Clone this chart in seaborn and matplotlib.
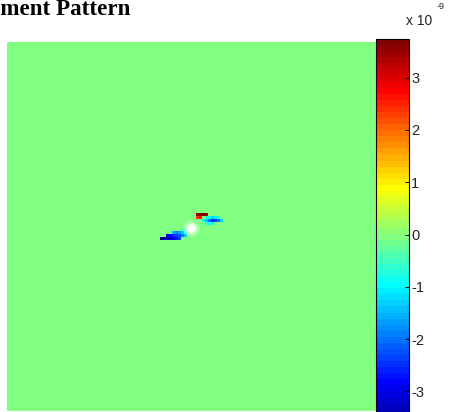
import numpy as np
import matplotlib
matplotlib.use("Agg")
import matplotlib.pyplot as plt
import seaborn as sns
from matplotlib.colors import ListedColormap

# ---------------- data (values in units of 1e-9) ----------------
grid_size = 123
cell_rows = [65, 65, 65, 65, 65, 65, 65,
             64, 64, 64, 64, 64, 64, 64,
             63, 63, 63, 63, 63,
             62, 62,
             57, 57, 57, 57, 58, 58,
             59, 59, 59, 59, 59, 59, 59,
             58, 58, 58, 58, 58,
             60, 60, 60]
cell_cols = [51, 52, 53, 54, 55, 56, 57,
             53, 54, 55, 56, 57, 58, 59,
             55, 56, 57, 58, 59,
             58, 59,
             63, 64, 65, 66, 63, 64,
             65, 66, 67, 68, 69, 70, 71,
             66, 67, 68, 69, 70,
             66, 67, 68]
cell_vals = [-3.6, -3.5, -3.3, -3.1, -2.9, -2.7, -2.4,
             -3.0, -2.8, -2.6, -2.4, -2.2, -1.9, -1.4,
             -1.6, -1.9, -1.7, -1.3, -0.9,
             -0.5, -0.4,
             3.4, 3.6, 3.7, 3.5, 2.4, 2.6,
             -0.9, -1.4, -2.0, -2.6, -2.4, -2.0, -1.3,
             -0.7, -1.0, -1.3, -1.1, -0.8,
             -0.6, -0.8, -0.9]
spot_x = [61.2]
spot_y = [62.0]
cbar_ticks = [-3, -2, -1, 0, 1, 2, 3]
cbar_labels = ["-3", "-2", "-1", "0", "1", "2", "3"]
title_text = "Displacement Pattern"
vmin, vmax = -3.70, 3.74

# ---------------- MATLAB-style jet(64) colormap ----------------
m = 64
n = int(np.ceil(m / 4))
u = np.concatenate([np.arange(1, n + 1) / n, np.ones(n - 1), np.arange(n, 0, -1) / n])
g = int(np.ceil(n / 2)) - (1 if m % 4 == 1 else 0) + np.arange(1, len(u) + 1)
r = g + n
b = g - n
J = np.zeros((m, 3))
J[r[r <= m] - 1, 0] = u[r <= m]
J[g[g <= m] - 1, 1] = u[g <= m]
J[b[b >= 1] - 1, 2] = u[b >= 1]
jet64 = ListedColormap(J)

grid = np.zeros((grid_size, grid_size))
for rr, cc, vv in zip(cell_rows, cell_cols, cell_vals):
    grid[rr, cc] = vv

W, H = 451, 412
fig = plt.figure(figsize=(W / 100, H / 100), dpi=100)
ax = fig.add_axes([7 / W, 1 / H, 369 / W, 369 / H])
cax = fig.add_axes([376 / W, (H - 428) / H, 33 / W, 389 / H])

sns.heatmap(grid, cmap=jet64, vmin=vmin, vmax=vmax, ax=ax, cbar_ax=cax,
            xticklabels=False, yticklabels=False)
ax.set_axis_off()

# white bright spot
ax.scatter(spot_x, spot_y, s=150, color="white", alpha=0.25, linewidths=0, zorder=3)
ax.scatter(spot_x, spot_y, s=70, color="white", alpha=0.5, linewidths=0, zorder=4)
ax.scatter(spot_x, spot_y, s=30, color="white", alpha=1.0, linewidths=0, zorder=5)

cb = ax.collections[0].colorbar
cb.set_ticks(cbar_ticks)
cb.set_ticklabels(cbar_labels)
cb.outline.set_linewidth(0.8)
cb.outline.set_edgecolor("black")
cax.tick_params(axis="y", direction="in", length=3, width=0.7, pad=1.5,
                labelsize=10.5, right=True, left=False, labelcolor="#222222")
for t in cax.get_yticklabels():
    t.set_fontfamily("Liberation Sans")

fig.text(432 / W, (H - 25) / H, "x 10", ha="right", va="baseline",
         fontsize=10, family="Liberation Sans", color="#222222")
fig.text(437 / W, (H - 9) / H, "-9", ha="left", va="baseline",
         fontsize=6.5, family="Liberation Sans", color="#222222")

fig.text(130 / W, (H - 15) / H, title_text, ha="right", va="baseline",
         fontsize=16.6, fontweight="bold", family="Liberation Serif")

fig.savefig("out.png", dpi=100)
